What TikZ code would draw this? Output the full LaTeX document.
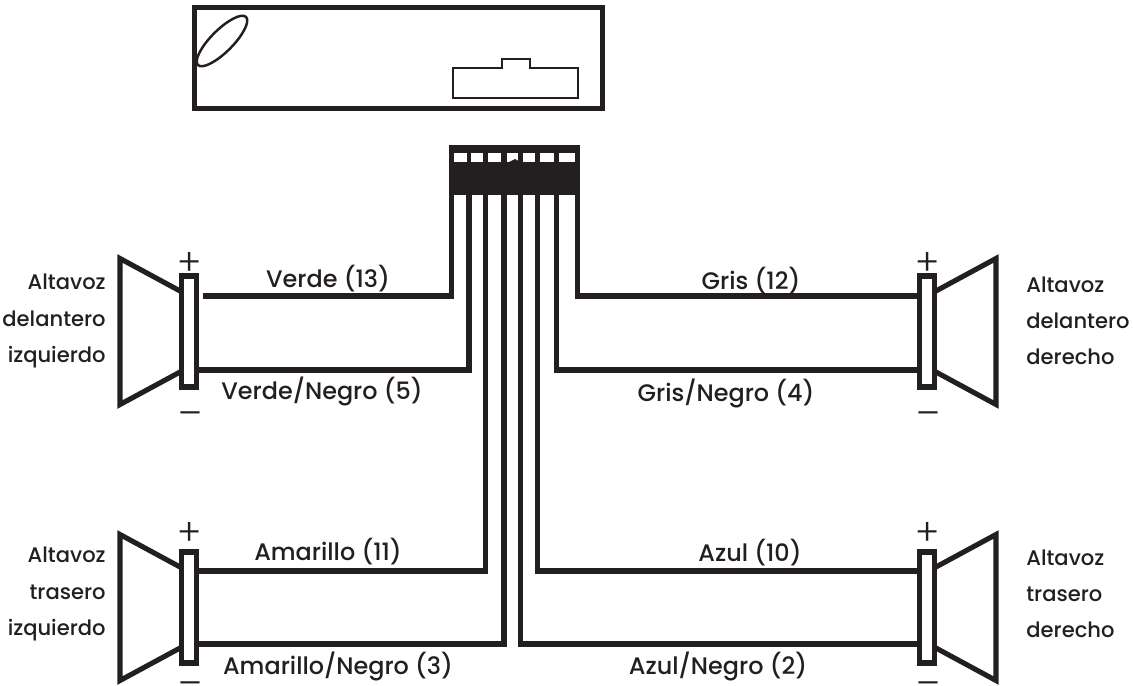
\documentclass[tikz,border=0pt]{standalone}
\usepackage{fontspec}
\setmainfont{Poppins Medium}
\newfontfamily\polefont{Poppins Light}
\usetikzlibrary{positioning, shapes.geometric}
\definecolor{WireBlack}{HTML}{231F20}
\colorlet{RadioLine}{WireBlack}

\begin{document}
\begin{tikzpicture}[
        x=0.02cm, y=-0.02cm,
        radiobox/.style={draw=RadioLine, line width=2.9pt, minimum width=8.16cm, minimum height=2.02cm, inner sep=0pt},
        plugbox/.style={fill=WireBlack, minimum width=2.62cm, minimum height=1cm, inner sep=0pt},
        coilbox/.style={draw=WireBlack, fill=white, line width=2.9pt, minimum width=0.3cm, minimum height=2.22cm, inner sep=0pt},
        horn/.style={draw=WireBlack, line width=2.9pt, miter limit=10},
        wire/.style={draw=WireBlack, line width=2.9pt},
        wirelabel/.style={text=WireBlack, font=\fontsize{13.6}{15}\selectfont, inner sep=0pt},
        spklabel/.style={text=WireBlack, font=\fontsize{12}{20.6}\selectfont, inner sep=0pt},
        pole/.style={text=WireBlack, font=\polefont\fontsize{21}{21}\selectfont, inner sep=0pt}
    ]
    \useasboundingbox (0,0) rectangle (1133,686);

    % Radio
    \node[radiobox] (radio) at (398.5,58) {};
    \node[draw=WireBlack, line width=1.4pt, ellipse, rotate=45, minimum width=1.36cm, minimum height=0.44cm, inner sep=0pt] (knob) at (222,41) {};
    \draw[WireBlack, line width=1.4pt] (453,68) -- (502,68) -- (502,59) -- (530,59) -- (530,68) -- (578,68) -- (578,98) -- (453,98) -- cycle;

    % Plug
    \node[plugbox] (plug) at (514.5,170) {};
    \foreach \xa/\xb in {454/466.7, 471.3/482.7, 488/501.3, 506.7/518, 522.7/534.7, 539.7/553.7, 559/574.7}
        \fill[white] (\xa,153) rectangle (\xb,162);
    \fill[WireBlack] (509,162) -- (515,159) -- (518,160.7) -- (518,162) -- cycle;

    % Speakers
    \foreach \nm/\cx/\cy/\d/\dy in {FL/189/331.5/-1/3, FR/927/331.5/1/3, RL/189/607.5/-1/-3, RR/927/607.5/1/-3} {
        \node[coilbox] (coil\nm) at (\cx,\cy) {};
        \draw[horn] (\cx+\d*8,\cy-40) -- (\cx+\d*69,\cy-73) -- (\cx+\d*69,\cy+73) -- (\cx+\d*8,\cy+40);
        \node[pole] (plus\nm) at (\cx+1,\cy-71+\dy) {+};
        \node[pole] (minus\nm) at (\cx+1,\cy+85+\dy) {–};
    }

    % Wire ends
    \coordinate (endVerde) at (203,296);
    \coordinate (endVerdeNegro) at (197,370);
    \coordinate (endAmarillo) at (197,571);
    \coordinate (endAmarilloNegro) at (197,644);
    \coordinate (endGris) at (919,296);
    \coordinate (endGrisNegro) at (919,370);
    \coordinate (endAzul) at (919,571);
    \coordinate (endAzulNegro) at (919,644);

    % Wires
    \foreach \nm/\x in {Verde/451.7, VerdeNegro/469, Amarillo/485.3, AmarilloNegro/504, AzulNegro/520.3, Azul/537.2, GrisNegro/556.3, Gris/577.3} {
        \coordinate (pin\nm) at (\x,190);
        \draw[wire, line join=miter] (pin\nm) |- (end\nm);
    }

    % Wire labels
    \node[wirelabel] (lblVerde) at (328,279) {Verde (13)};
    \node[wirelabel] (lblVerdeNegro) at (322,391) {Verde/Negro (5)};
    \node[wirelabel] (lblAmarillo) at (328,552) {Amarillo (11)};
    \node[wirelabel] (lblAmarilloNegro) at (338,666) {Amarillo/Negro (3)};
    \node[wirelabel] (lblGris) at (751,281) {Gris (12)};
    \node[wirelabel] (lblGrisNegro) at (726,393) {Gris/Negro (4)};
    \node[wirelabel] (lblAzul) at (750,553) {Azul (10)};
    \node[wirelabel] (lblAzulNegro) at (718,666) {Azul/Negro (2)};

    % Speaker labels
    \node[spklabel, align=right, anchor=east] (txtFL) at (106,321) {Altavoz\\delantero\\izquierdo};
    \node[spklabel, align=left, anchor=west] (txtFR) at (1026,321) {Altavoz\\delantero\\derecho};
    \node[spklabel, align=right, anchor=east] (txtRL) at (106,594) {Altavoz\\trasero\\izquierdo};
    \node[spklabel, align=left, anchor=west] (txtRR) at (1026,594) {Altavoz\\trasero\\derecho};
\end{tikzpicture}
\end{document}
